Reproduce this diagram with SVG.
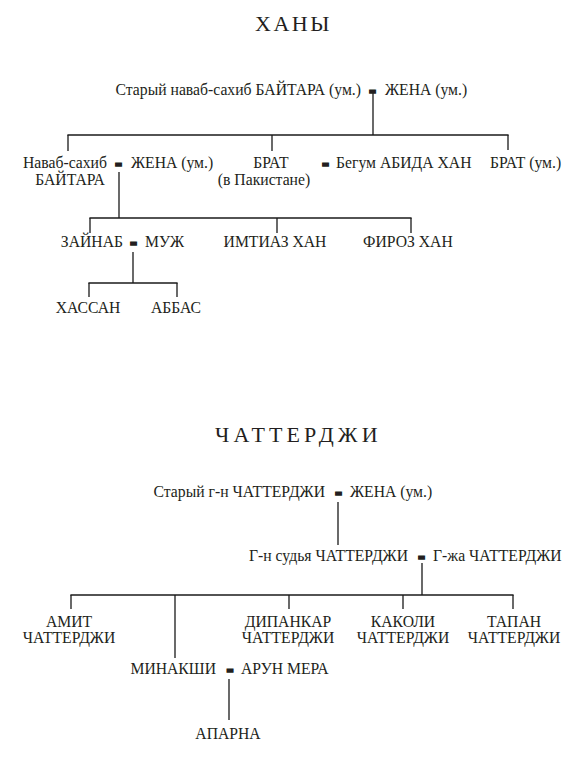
<svg xmlns="http://www.w3.org/2000/svg" width="580" height="763" viewBox="0 0 580 763" font-family="'Liberation Serif', 'DejaVu Serif', serif">
<style>
text{font-family:'Liberation Serif','DejaVu Serif','Times New Roman',serif;font-size:15.7px;fill:#231f20}
.title{font-size:22px;letter-spacing:2.5px}
.t2{letter-spacing:4.1px}
.m{text-anchor:middle}
.e{text-anchor:end}
.eq{font-family:'DejaVu Sans',sans-serif;font-weight:bold;font-size:9px;text-anchor:middle;stroke:#231f20;stroke-width:1.4}
.c line{stroke:#1a1a1a;stroke-width:1.3;fill:none}
</style>
<rect width="580" height="763" fill="#fff"/>
<text class="title" x="255" y="31">ХАНЫ</text>
<g class="c" id="connectors-top">
<line x1="373" y1="92" x2="373" y2="135"/>
<line x1="67.4" y1="135" x2="508.6" y2="135"/>
<line x1="68" y1="135" x2="68" y2="151"/>
<line x1="272" y1="135" x2="272" y2="151"/>
<line x1="508" y1="135" x2="508" y2="150"/>
<line x1="119" y1="172" x2="119" y2="218"/>
<line x1="89.4" y1="218" x2="411.6" y2="218"/>
<line x1="90" y1="218" x2="90" y2="233"/>
<line x1="277" y1="218" x2="277" y2="233"/>
<line x1="411" y1="218" x2="411" y2="233"/>
<line x1="133" y1="252" x2="133" y2="283"/>
<line x1="88.4" y1="283" x2="177.6" y2="283"/>
<line x1="89" y1="283" x2="89" y2="297"/>
<line x1="177" y1="283" x2="177" y2="297"/>
</g>
<g id="old-nawab"><text class="e" x="361" y="95">Старый наваб-сахиб БАЙТАРА (ум.)</text><text class="eq" x="372.5" y="94">=</text><text x="385" y="95">ЖЕНА (ум.)</text></g>
<g id="nawab"><text class="m" x="65" y="168">Наваб-сахиб</text><text class="m" x="70" y="184.5">БАЙТАРА</text><text class="eq" x="118.5" y="167">=</text><text x="131" y="168">ЖЕНА (ум.)</text></g>
<g id="brat-pak"><text class="m" x="271" y="168">БРАТ</text><text class="m" x="264" y="184.5">(в Пакистане)</text><text class="eq" x="325.5" y="167">=</text><text x="336" y="168">Бегум АБИДА ХАН</text></g>
<g id="brat-um"><text x="490" y="168">БРАТ (ум.)</text></g>
<g id="zaynab"><text class="e" x="123" y="247">ЗАЙНАБ</text><text class="eq" x="133.5" y="246">=</text><text x="145" y="247">МУЖ</text></g>
<g id="imtiaz"><text class="m" x="275" y="247">ИМТИАЗ ХАН</text></g>
<g id="firoz"><text x="363" y="247">ФИРОЗ ХАН</text></g>
<g id="hassan"><text class="m" x="88" y="313">ХАССАН</text></g>
<g id="abbas"><text class="m" x="176" y="313">АББАС</text></g>

<text class="title t2" x="215" y="442">ЧАТТЕРДЖИ</text>
<g class="c" id="connectors-bottom">
<line x1="338" y1="502" x2="338" y2="545"/>
<line x1="422" y1="563" x2="422" y2="595"/>
<line x1="70.4" y1="595" x2="513.6" y2="595"/>
<line x1="71" y1="595" x2="71" y2="609"/>
<line x1="175" y1="595" x2="175" y2="658"/>
<line x1="289" y1="595" x2="289" y2="609"/>
<line x1="403" y1="595" x2="403" y2="609"/>
<line x1="513" y1="595" x2="513" y2="609"/>
<line x1="229" y1="679" x2="229" y2="720"/>
</g>
<g id="old-chatterji"><text class="e" x="325" y="497">Старый г-н ЧАТТЕРДЖИ</text><text class="eq" x="338.5" y="496">=</text><text x="350" y="497">ЖЕНА (ум.)</text></g>
<g id="judge"><text class="e" x="408" y="561">Г-н судья ЧАТТЕРДЖИ</text><text class="eq" x="421.5" y="560">=</text><text x="433" y="561">Г-жа ЧАТТЕРДЖИ</text></g>
<g id="amit"><text class="m" x="69" y="627">АМИТ</text><text class="m" x="69" y="643">ЧАТТЕРДЖИ</text></g>
<g id="dipankar"><text class="m" x="288" y="627">ДИПАНКАР</text><text class="m" x="288" y="643">ЧАТТЕРДЖИ</text></g>
<g id="kakoli"><text class="m" x="403" y="627">КАКОЛИ</text><text class="m" x="403" y="643">ЧАТТЕРДЖИ</text></g>
<g id="tapan"><text class="m" x="514" y="627">ТАПАН</text><text class="m" x="514" y="643">ЧАТТЕРДЖИ</text></g>
<g id="minakshi"><text class="e" x="216" y="674">МИНАКШИ</text><text class="eq" x="230" y="673">=</text><text x="241" y="674">АРУН МЕРА</text></g>
<g id="aparna"><text class="m" x="228" y="739">АПАРНА</text></g>
</svg>
